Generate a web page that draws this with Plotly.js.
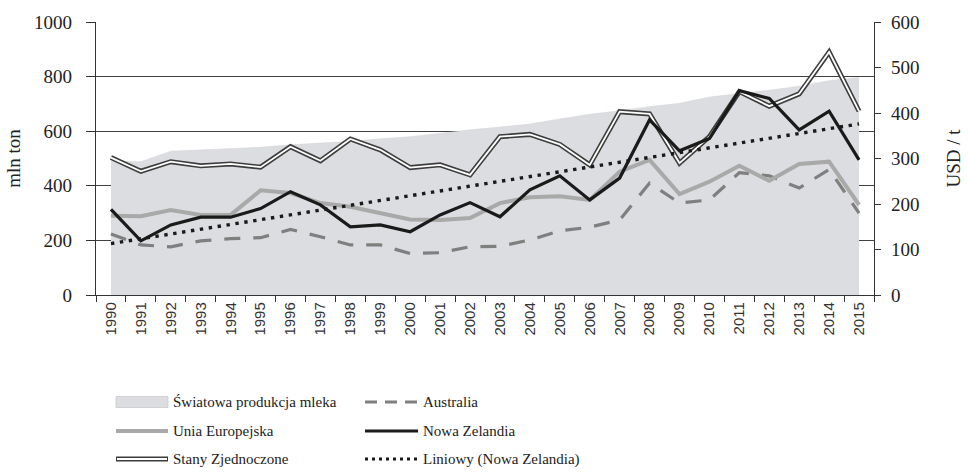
<!DOCTYPE html>
<html>
<head>
<meta charset="utf-8">
<script src="https://cdn.plot.ly/plotly-3.0.1.min.js"></script>
<style>html,body{margin:0;padding:0;background:#fff;}#chart{width:968px;height:472px;}</style>
</head>
<body>
<div id="chart"></div>
<script>
// ---- data ----
const years = ["1990","1991","1992","1993","1994","1995","1996","1997","1998","1999","2000","2001","2002","2003","2004","2005","2006","2007","2008","2009","2010","2011","2012","2013","2014","2015"];
// World milk production, mln ton (left axis)
const worldMilk = [490,488,527,532,537,541,550,556,563,572,580,592,605,615,626,645,662,675,690,702,725,738,750,765,785,797];
// Prices, USD / t (right axis)
const australia = [134,110,106,119,124,126,144,128,110,110,91,93,106,107,121,141,149,165,246,202,209,269,262,235,276,180];
const eu        = [174,173,187,176,176,230,224,202,194,180,166,165,169,202,215,217,209,271,297,222,249,284,251,288,293,198];
const nz        = [188,119,154,171,171,190,227,198,150,154,139,176,203,172,231,262,209,257,385,317,344,449,432,363,404,297];
const usa       = [302,272,293,284,288,281,326,295,343,319,280,286,264,348,353,331,286,403,398,290,348,447,415,442,534,404];
// Linear trend (Nowa Zelandia), read at first and last year
const trendYears = ["1990","2015"];
const trendVals  = [113,376];

const names = {
  world: "Światowa produkcja mleka",
  aus: "Australia",
  eu: "Unia Europejska",
  nz: "Nowa Zelandia",
  usa: "Stany Zjednoczone",
  trend: "Liniowy (Nowa Zelandia)"
};

// ---- traces ----
const traces = [
  {x: years, y: worldMilk, name: names.world, type: "scatter", mode: "lines", fill: "tozeroy",
   fillcolor: "#dcdde0", line: {width: 0.5, color: "#d2d3d6"}, yaxis: "y", showlegend: false},
  {x: years, y: australia, name: names.aus, type: "scatter", mode: "lines", yaxis: "y2",
   line: {color: "#7f7f7f", width: 3.2, dash: "16px,13px"}, showlegend: false},
  {x: years, y: eu, name: names.eu, type: "scatter", mode: "lines", yaxis: "y2",
   line: {color: "#a9a9a9", width: 4}, showlegend: false},
  {x: years, y: usa, name: names.usa, type: "scatter", mode: "lines", yaxis: "y2",
   line: {color: "#3d3d3d", width: 5}, showlegend: false},
  {x: years, y: usa, name: names.usa + " ", type: "scatter", mode: "lines", yaxis: "y2",
   line: {color: "#ffffff", width: 1.8}, showlegend: false, hoverinfo: "skip"},
  {x: years, y: nz, name: names.nz, type: "scatter", mode: "lines", yaxis: "y2",
   line: {color: "#1a1a1a", width: 3.2}, showlegend: false},
  {x: trendYears, y: trendVals, name: names.trend, type: "scatter", mode: "lines", yaxis: "y2",
   line: {color: "#1a1a1a", width: 3.4, dash: "3.4px,5.6px"}, showlegend: false}
];

// ---- layout helpers (pixel -> paper) ----
const L = 96, R = 874, T = 22, B = 295;
const PX = x => (x - L) / (R - L);
const PY = y => (B - y) / (B - T);

const legendRows = [402, 431, 459];
const c1s = 116, c1e = 168, c1t = 171;
const c2s = 365, c2e = 418, c2t = 421;

const shapes = [
  {type: "rect", xref: "paper", yref: "paper", x0: PX(c1s), x1: PX(c1e), y0: PY(legendRows[0] - 5.5), y1: PY(legendRows[0] + 5.5),
   fillcolor: "#dcdde0", line: {color: "#c9c9cc", width: 0.8}},
  {type: "line", xref: "paper", yref: "paper", x0: PX(c2s), x1: PX(c2e), y0: PY(legendRows[0]), y1: PY(legendRows[0]),
   line: {color: "#7f7f7f", width: 3.2, dash: "12px,8px"}},
  {type: "line", xref: "paper", yref: "paper", x0: PX(c1s), x1: PX(c1e), y0: PY(legendRows[1]), y1: PY(legendRows[1]),
   line: {color: "#a9a9a9", width: 4}},
  {type: "line", xref: "paper", yref: "paper", x0: PX(c2s), x1: PX(c2e), y0: PY(legendRows[1]), y1: PY(legendRows[1]),
   line: {color: "#1a1a1a", width: 3.2}},
  {type: "line", xref: "paper", yref: "paper", x0: PX(c1s), x1: PX(c1e), y0: PY(legendRows[2]), y1: PY(legendRows[2]),
   line: {color: "#3d3d3d", width: 5}},
  {type: "line", xref: "paper", yref: "paper", x0: PX(c1s + 1), x1: PX(c1e - 1), y0: PY(legendRows[2]), y1: PY(legendRows[2]),
   line: {color: "#ffffff", width: 1.8}},
  {type: "line", xref: "paper", yref: "paper", x0: PX(c2s), x1: PX(c2e), y0: PY(legendRows[2]), y1: PY(legendRows[2]),
   line: {color: "#1a1a1a", width: 3, dash: "3px,4px"}}
];

const legFont = {family: "Liberation Serif", size: 15, color: "#222"};
const mkText = (t, x, y) => ({text: t, xref: "paper", yref: "paper", x: PX(x), y: PY(y),
  xanchor: "left", yanchor: "middle", showarrow: false, font: legFont});
const annotations = [
  mkText(names.world, c1t, legendRows[0]),
  mkText(names.aus, c2t, legendRows[0]),
  mkText(names.eu, c1t, legendRows[1]),
  mkText(names.nz, c2t, legendRows[1]),
  mkText(names.usa, c1t, legendRows[2]),
  mkText(names.trend, c2t, legendRows[2])
];

const serif = {family: "Liberation Serif", size: 19, color: "#222"};

// boundaries between year categories (for the inner half of the crossing ticks)
const boundaries = [];
for (let i = 0; i <= years.length; i++) boundaries.push(i - 0.5);

const layout = {
  width: 968, height: 472,
  margin: {l: L, r: 968 - R, t: T, b: 472 - B, pad: 0},
  paper_bgcolor: "#fff", plot_bgcolor: "#fff",
  showlegend: false,
  xaxis: {
    type: "category", range: [-0.5, 25.5], tickangle: -90,
    ticks: "outside", ticklen: 6, tickcolor: "#333", tickwidth: 1, tickson: "boundaries",
    showline: true, linecolor: "#333", linewidth: 1.2, showgrid: false, zeroline: false,
    tickfont: {family: "Liberation Sans", size: 15, color: "#333"},
    automargin: false
  },
  xaxis2: {
    overlaying: "x", anchor: "y", type: "linear", range: [-0.5, 25.5],
    tickmode: "array", tickvals: boundaries, ticks: "inside", ticklen: 5, tickcolor: "#333",
    showticklabels: false, showline: false, showgrid: false, zeroline: false
  },
  yaxis: {
    range: [0, 1000], dtick: 200, tick0: 0,
    ticks: "outside", ticklen: 9, tickcolor: "#333", ticklabelstandoff: 10,
    showline: true, linecolor: "#333", linewidth: 1.2,
    showgrid: true, gridcolor: "#404040", gridwidth: 1, zeroline: false,
    tickfont: serif,
    title: {text: "mln ton", font: serif, standoff: 8},
    automargin: false
  },
  yaxis2: {
    overlaying: "y", side: "right", range: [0, 600], dtick: 100, tick0: 0,
    ticks: "outside", ticklen: 6, tickcolor: "#333", ticklabelstandoff: 6,
    showline: true, linecolor: "#333", linewidth: 1.2,
    showgrid: false, zeroline: false,
    tickfont: serif,
    title: {text: "USD / t", font: serif, standoff: 28},
    automargin: false
  },
  shapes: shapes,
  annotations: annotations
};

Plotly.newPlot("chart", traces, layout, {displayModeBar: false, staticPlot: true});
</script>
</body>
</html>
